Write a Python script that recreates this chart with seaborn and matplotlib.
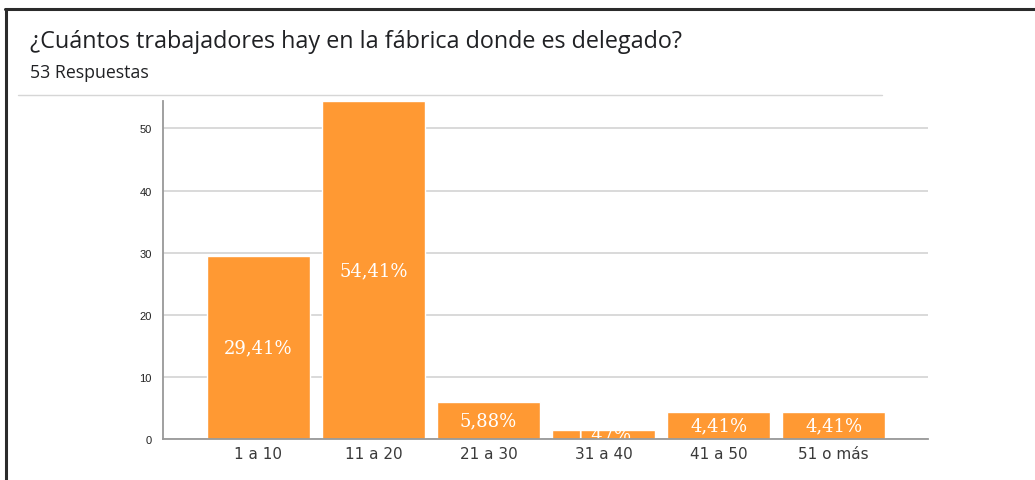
import numpy as np
import pandas as pd
import seaborn as sns
import matplotlib.pyplot as plt
from matplotlib.lines import Line2D

# survey answers (share of responses, in %)
categories = ["1 a 10", "11 a 20", "21 a 30", "31 a 40", "41 a 50", "51 o más"]
percentages = [29.41, 54.41, 5.88, 1.47, 4.41, 4.41]
bar_labels = ["29,41%", "54,41%", "5,88%", "1,47%", "4,41%", "4,41%"]
y_ticks = [0, 10, 20, 30, 40, 50]

title = "¿Cuántos trabajadores hay en la fábrica donde es delegado?"
subtitle = "53 Respuestas"

df = pd.DataFrame({"rango": categories, "pct": percentages})

sns.set_style("white")
W, H = 1035, 481
fig = plt.figure(figsize=(W / 100, H / 100), dpi=100)

ax = fig.add_axes([163 / W, 1 - 440 / H, (928 - 163) / W, (440 - 102) / H])

sns.barplot(data=df, x="rango", y="pct", color="#FF9933", saturation=1,
            width=0.895, ax=ax, zorder=3)
ax.set_xlim(-0.83, len(categories) - 1 + 0.82)
ax.set_ylim(0, max(percentages))
ax.set_yticks(y_ticks)
ax.set_yticklabels([str(t) for t in y_ticks], fontsize=8,
                   family="Liberation Sans", color="#222222")
ax.set_xticks(range(len(categories)))
ax.set_xticklabels(categories, fontsize=11, family="DejaVu Sans", color="#3a3a3a")
ax.tick_params(axis="both", length=0)
ax.tick_params(axis="y", pad=8)
ax.tick_params(axis="x", pad=5)
ax.set_xlabel("")
ax.set_ylabel("")
ax.grid(axis="y", color="#d9d9d9", linewidth=1.4, zorder=0)
ax.set_axisbelow(True)
for side in ["top", "right"]:
    ax.spines[side].set_visible(False)
for side in ["left", "bottom"]:
    ax.spines[side].set_color("#999999")
    ax.spines[side].set_linewidth(1.3)
    ax.spines[side].set_zorder(5)

# white value labels in the middle of each bar
for i, (v, lab) in enumerate(zip(percentages, bar_labels)):
    ax.text(i, v / 2, lab, ha="center", va="center", color="white",
            fontsize=13, family="DejaVu Serif", clip_on=True, zorder=4)

# title block
fig.text(30 / W, 1 - 48 / H, title, fontsize=16.8, family="Open Sans",
         color="#202124", ha="left", va="baseline")
fig.text(30 / W, 1 - 78 / H, subtitle, fontsize=12.8, family="Open Sans",
         color="#202124", ha="left", va="baseline")

# separator under the title and the dark frame
fig.add_artist(Line2D([18 / W, 882 / W], [1 - 96 / H, 1 - 96 / H],
                      color="#d6d6d6", linewidth=1.0))
fig.add_artist(Line2D([5 / W, 1.0], [1 - 10 / H, 1 - 10 / H],
                      color="#2b2b2b", linewidth=2.2))
fig.add_artist(Line2D([6 / W, 6 / W], [0, 1 - 10 / H],
                      color="#2b2b2b", linewidth=2.2))

fig.savefig("out.png", dpi=100, facecolor="white")
